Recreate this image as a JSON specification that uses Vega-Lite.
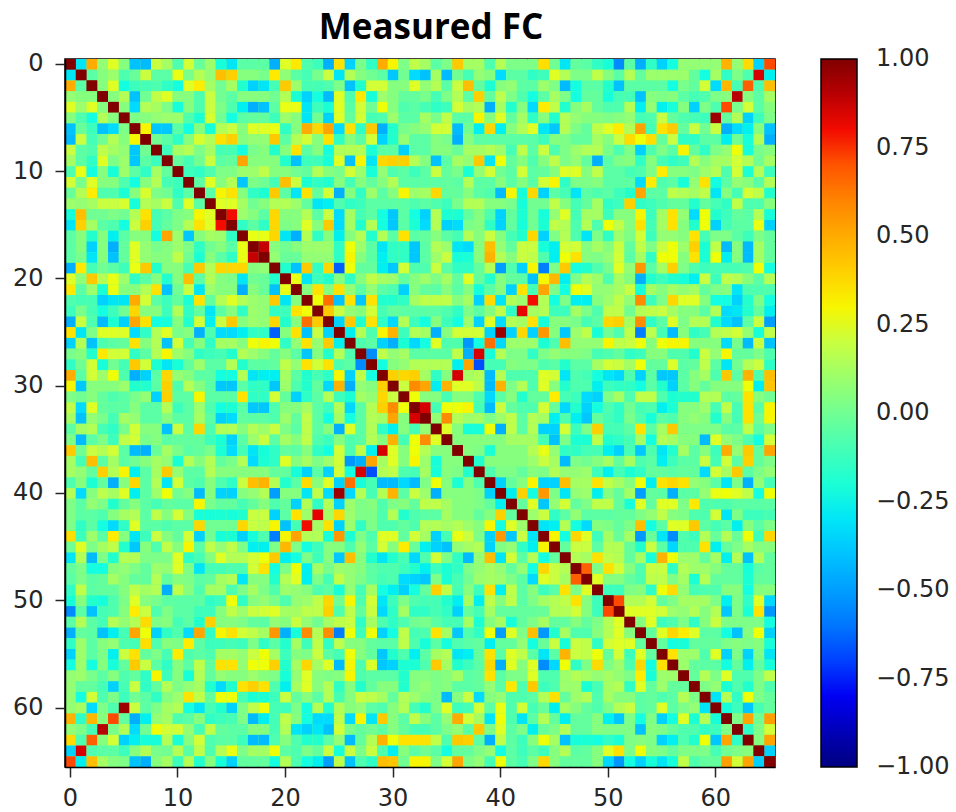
{"$schema":"https://vega.github.io/schema/vega-lite/v6.json","autosize":"none","width":710,"height":708,"padding":{"left":65,"top":59,"right":181,"bottom":45},"background":"white","title":{"text":"Measured FC","font":"Open Sans","fontWeight":"bold","fontSize":35,"color":"black","anchor":"middle","dx":11,"offset":6},"config":{"view":{"stroke":"black","strokeWidth":1.5,"fill":"#80ff80"},"font":"DejaVu Sans"},"data":{"values":[
{"r":1,"v":[100,-30,50,8,25,5,-40,-42,20,12,-8,22,-2,10,-22,-30,-5,-5,-5,-45,25,33,-8,-12,-45,35,-35,2,-15,50,30,3,18,12,-5,3,42,12,12,-8,15,3,3,3,36,0,-30,-3,-5,-15,-22,-55,-5,-45,-15,-35,-25,8,8,8,8,48,8,37,-35,72]},
{"r":2,"v":[0,100,-5,5,10,-8,-2,20,-5,-5,27,2,15,8,45,40,5,5,2,33,7,-5,-10,2,20,-30,15,5,0,-5,-38,0,-32,-40,12,-42,0,-10,8,5,-32,-5,-5,-15,-12,25,15,3,3,18,5,-5,15,-3,10,10,10,10,-3,-25,12,-15,3,-8,85,-28]},
{"r":3,"v":[0,0,100,5,25,-25,-12,-10,-8,-15,-25,25,32,12,0,12,-18,-35,-30,-10,42,10,-10,-10,-8,3,-40,-18,22,22,5,5,25,8,15,-5,20,45,-3,-20,5,8,-5,-5,10,3,-42,-25,-5,-5,-18,-40,-5,-5,-5,-5,-25,2,-3,22,-32,47,-10,68,-8,45]},
{"r":4,"v":[0,0,0,100,5,15,-40,0,18,25,5,5,-8,20,0,-5,5,5,5,0,15,-20,-35,-25,-42,25,-8,33,-22,10,5,-3,-3,2,-10,3,15,-5,40,-3,17,3,-8,-25,-5,12,3,-25,-3,-3,-22,-10,-10,-40,5,3,5,-5,-10,-8,3,5,90,5,-5,12]},
{"r":5,"v":[0,0,0,0,100,5,-32,15,12,3,-22,5,-8,20,3,-8,-28,-45,-40,-5,27,27,-30,-12,-20,25,-5,22,0,28,5,-8,-5,-10,-15,-12,22,12,15,-45,12,-18,5,-32,32,18,-18,5,12,-3,-8,-8,15,-28,8,-28,-22,5,-35,3,-8,72,2,22,-5,5]},
{"r":6,"v":[0,0,0,0,0,100,3,5,8,10,10,-8,-20,23,0,-25,-5,-3,-3,-12,10,5,-30,0,-35,25,-3,22,-10,-8,10,-5,-5,12,2,18,-5,-5,30,5,25,-3,12,-15,5,-18,15,8,5,5,3,5,8,-10,-8,20,-3,-8,-10,-12,95,-3,15,-35,-12,3]},
{"r":7,"v":[0,0,0,0,0,0,100,30,-38,-38,-5,-25,5,-22,15,20,5,25,25,27,-15,5,50,38,52,-32,35,-15,42,-45,-18,2,5,8,22,22,-42,0,-28,38,-28,5,15,25,-30,-38,15,3,-3,18,25,32,15,52,-10,35,42,-3,20,0,20,-45,-32,-28,5,-40]},
{"r":8,"v":[0,0,0,0,0,0,0,100,0,-5,-15,5,23,15,35,40,5,8,8,42,-5,15,22,5,35,-15,5,-5,22,-35,-18,8,-5,-5,5,2,-45,5,-5,-5,-5,-5,-5,-5,-12,5,3,-3,-3,12,5,20,37,28,36,-3,20,-15,-15,-5,-5,-28,0,-22,15,-45]},
{"r":9,"v":[0,0,0,0,0,0,0,0,100,-12,12,15,3,12,-10,-10,-25,2,5,-18,5,35,-5,5,-25,15,15,15,-20,-5,-5,-35,-5,-5,5,5,-2,12,12,15,10,-10,18,-5,20,-8,3,10,15,15,2,-8,3,-35,-8,3,-5,30,-3,-15,3,8,28,-22,2,5]},
{"r":10,"v":[0,0,0,0,0,0,0,0,0,100,-3,-10,0,20,-5,-3,52,5,5,5,-18,-40,-12,-12,-22,25,-40,30,-30,38,40,40,15,5,-40,-5,12,8,42,-30,28,-3,5,-8,5,18,3,8,-3,-45,-5,3,5,-15,5,-10,-15,-12,15,5,12,12,22,15,0,12]},
{"r":11,"v":[0,0,0,0,0,0,0,0,0,0,100,-12,-15,-8,3,3,10,10,18,5,5,0,-3,15,5,2,22,10,-22,8,-8,-5,-12,-5,20,-3,2,-20,8,22,0,-5,22,-5,-3,5,25,25,5,18,-5,-5,-10,-8,3,32,5,5,3,10,15,-8,22,-20,15,-12]},
{"r":12,"v":[0,0,0,0,0,0,0,0,0,0,0,100,-5,25,5,15,-38,3,0,-10,45,20,-20,-15,-18,5,-10,5,-3,5,15,-5,-5,-5,-5,-3,-5,15,-5,-5,5,-5,5,-5,22,30,-15,3,3,5,-5,-5,-5,-32,32,-8,-5,-22,8,35,-25,-5,8,5,-5,15]},
{"r":13,"v":[0,0,0,0,0,0,0,0,0,0,0,0,100,-5,30,35,5,-15,-20,42,-5,-30,35,-3,22,-45,5,-15,10,-5,5,30,10,12,38,-3,-3,5,-5,-8,-42,30,-22,38,-35,-5,-10,-30,-5,-8,-5,-12,-18,52,-5,-5,18,15,12,18,-30,5,-10,22,18,-18]},
{"r":14,"v":[0,0,0,0,0,0,0,0,0,0,0,0,0,100,25,25,12,0,5,15,15,10,-3,-30,-28,-8,-15,-12,-5,-5,-5,-5,-8,-5,-8,-12,2,15,15,5,5,2,-22,0,0,18,5,-10,-3,12,-15,-12,40,-15,-12,-8,-3,-3,-18,-3,-10,-15,18,-8,-8,5]},
{"r":15,"v":[0,0,0,0,0,0,0,0,0,0,0,0,0,0,100,80,10,5,-5,38,5,5,15,-5,20,-32,12,-10,-5,-25,-38,-5,-25,-35,15,-20,-20,-3,5,-8,-35,-3,-20,0,-22,8,25,-10,12,12,-12,5,5,30,-12,12,35,8,-32,28,-18,-12,-3,-5,15,-22]},
{"r":16,"v":[0,0,0,0,0,0,0,0,0,0,0,0,0,0,0,100,-15,-5,-15,38,3,5,25,5,42,-32,12,-18,15,-25,-38,-5,-20,-32,15,-35,-32,2,5,-15,-35,-3,-22,0,-20,18,15,-8,15,-8,28,18,5,35,-10,12,35,5,-18,28,-35,-10,-5,-5,27,-35]},
{"r":17,"v":[0,0,0,0,0,0,0,0,0,0,0,0,0,0,0,0,100,27,27,38,-30,-45,15,-15,5,-28,5,15,-18,15,-5,35,-5,-3,5,-5,-10,15,5,20,5,-10,-18,38,-35,3,15,-8,-30,3,-15,10,3,22,-12,8,8,5,35,-10,3,3,-5,-12,3,-3]},
{"r":18,"v":[0,0,0,0,0,0,0,0,0,0,0,0,0,0,0,0,0,100,88,5,0,5,10,10,10,-15,28,10,-5,-30,-15,-15,-38,-5,15,10,-30,-32,5,45,8,-3,20,20,-22,-28,22,22,5,12,5,20,-3,18,3,20,28,10,40,-20,18,-42,5,-42,12,-3]},
{"r":19,"v":[0,0,0,0,0,0,0,0,0,0,0,0,0,0,0,0,0,0,100,8,-2,-2,8,8,8,-15,30,5,-5,-28,-15,-15,-38,-5,10,20,-22,-20,5,48,15,5,20,18,-8,-28,28,35,5,3,8,22,-5,12,-15,28,28,5,35,-20,28,-28,5,-42,12,-3]},
{"r":20,"v":[0,0,0,0,0,0,0,0,0,0,0,0,0,0,0,0,0,0,0,100,-18,-40,42,-15,38,-65,28,-3,-3,-28,-38,22,-8,-8,20,-5,-15,-15,-3,15,-50,-8,-35,30,-58,3,42,-25,-18,-8,2,25,8,55,-5,12,40,3,-8,-12,-10,-10,-10,-8,28,-25]},
{"r":21,"v":[0,0,0,0,0,0,0,0,0,0,0,0,0,0,0,0,0,0,0,0,100,27,-30,-12,-18,5,-15,5,18,12,10,-3,5,10,3,12,-3,25,-3,-18,5,-3,-5,-40,30,47,-28,3,15,10,-8,12,5,-45,-18,-12,-18,-22,-28,20,-12,18,15,5,-5,15]},
{"r":22,"v":[0,0,0,0,0,0,0,0,0,0,0,0,0,0,0,0,0,0,0,0,0,100,5,35,5,35,8,-5,8,-5,-8,-35,5,-3,-5,5,-5,5,-22,-5,5,-35,35,-10,52,3,-25,28,25,8,8,12,20,-22,12,5,12,8,12,-3,3,5,-30,-8,-8,-8]},
{"r":23,"v":[0,0,0,0,0,0,0,0,0,0,0,0,0,0,0,0,0,0,0,0,0,0,100,28,65,-40,35,-38,35,-18,-18,-15,12,18,18,18,5,12,-35,37,-30,15,10,80,15,-25,3,-28,-28,5,10,18,8,58,-12,3,38,25,25,5,-25,-25,-35,-18,3,-25]},
{"r":24,"v":[0,0,0,0,0,0,0,0,0,0,0,0,0,0,0,0,0,0,0,0,0,0,0,100,42,20,8,5,22,-10,-3,-5,-5,-5,-5,-8,-15,3,-5,5,18,-15,82,12,15,-12,-12,12,3,-8,18,18,0,15,18,20,12,5,5,-5,15,-32,-30,-18,-3,-28]},
{"r":25,"v":[0,0,0,0,0,0,0,0,0,0,0,0,0,0,0,0,0,0,0,0,0,0,0,0,100,-35,42,-18,35,-15,-33,15,-12,-25,5,-12,-25,10,-35,25,-32,15,12,35,-22,5,5,2,-10,-5,38,40,12,58,-15,-5,25,3,15,15,-18,-32,-40,-5,20,-50]},
{"r":26,"v":[0,0,0,0,0,0,0,0,0,0,0,0,0,0,0,0,0,0,0,0,0,0,0,0,0,100,-28,15,-8,30,48,-12,15,12,-45,5,22,22,22,-35,95,-35,38,-35,55,5,-38,10,18,-22,0,-8,18,-58,17,-10,-42,5,-15,-10,15,18,22,8,-22,18]},
{"r":27,"v":[0,0,0,0,0,0,0,0,0,0,0,0,0,0,0,0,0,0,0,0,0,0,0,0,0,0,100,-8,-5,-35,-45,-20,-33,-25,25,-8,-8,-52,-25,65,-33,10,10,10,-20,-8,45,8,8,8,30,18,20,28,5,28,30,30,5,5,5,-32,2,-42,20,-40]},
{"r":28,"v":[0,0,0,0,0,0,0,0,0,0,0,0,0,0,0,0,0,0,0,0,0,0,0,0,0,0,0,100,-55,18,8,12,-5,-5,-5,-5,18,-45,85,-22,15,3,3,-15,3,8,5,5,3,-10,-8,-3,-15,-12,5,5,-8,-8,-18,20,8,30,-3,-3,3,-8]},
{"r":29,"v":[0,0,0,0,0,0,0,0,0,0,0,0,0,0,0,0,0,0,0,0,0,0,0,0,0,0,0,0,100,-25,5,8,15,15,15,15,-28,52,-68,-10,-10,5,3,3,-8,-5,-18,-5,-5,12,22,20,12,28,-3,-3,24,-5,-3,18,-5,-30,0,15,20,-15]},
{"r":30,"v":[0,0,0,0,0,0,0,0,0,0,0,0,0,0,0,0,0,0,0,0,0,0,0,0,0,0,0,0,0,100,40,38,40,12,-15,5,85,12,15,-42,15,-8,-8,-8,25,22,-30,-8,-10,-25,-30,-33,-8,-35,-5,-38,-38,-5,5,12,-8,42,-5,48,-8,45]},
{"r":31,"v":[0,0,0,0,0,0,0,0,0,0,0,0,0,0,0,0,0,0,0,0,0,0,0,0,0,0,0,0,0,0,100,20,58,52,-28,48,25,25,18,-42,48,3,15,-8,25,5,-18,-8,-8,-28,-12,-15,-15,-25,-5,-18,-35,-5,5,-3,5,5,5,28,-28,43]},
{"r":32,"v":[0,0,0,0,0,0,0,0,0,0,0,0,0,0,0,0,0,0,0,0,0,0,0,0,0,0,0,0,0,0,0,100,28,5,5,-10,5,5,-8,-33,-5,5,-18,-3,-3,32,-10,-12,-32,-35,3,12,-8,18,18,-8,-20,-18,-18,15,15,-5,-3,35,5,0]},
{"r":33,"v":[0,0,0,0,0,0,0,0,0,0,0,0,0,0,0,0,0,0,0,0,0,0,0,0,0,0,0,0,0,0,0,0,100,85,-10,28,28,30,-10,-42,20,-3,-8,-8,22,-2,-33,-18,-35,-25,-8,-15,0,-10,-8,-28,-20,5,5,10,-10,18,-10,35,-5,30]},
{"r":34,"v":[0,0,0,0,0,0,0,0,0,0,0,0,0,0,0,0,0,0,0,0,0,0,0,0,0,0,0,0,0,0,0,0,0,100,8,58,15,10,12,3,10,18,-5,15,12,-28,-8,-28,-38,-3,-10,-15,2,-8,-22,-5,-8,5,8,5,-18,5,-10,35,0,30]},
{"r":35,"v":[0,0,0,0,0,0,0,0,0,0,0,0,0,0,0,0,0,0,0,0,0,0,0,0,0,0,0,0,0,0,0,0,0,0,100,25,5,-22,-22,28,-45,18,-5,15,-35,-35,22,-12,3,40,-10,-10,-5,35,-5,12,42,3,3,3,3,-5,-5,18,-5,3]},
{"r":36,"v":[0,0,0,0,0,0,0,0,0,0,0,0,0,0,0,0,0,0,0,0,0,0,0,0,0,0,0,0,0,0,0,0,0,0,0,100,5,5,5,5,5,12,12,12,-10,-40,3,-20,-20,18,-18,-15,-10,12,-25,15,12,5,5,-42,25,8,3,-8,-25,22]},
{"r":37,"v":[0,0,0,0,0,0,0,0,0,0,0,0,0,0,0,0,0,0,0,0,0,0,0,0,0,0,0,0,0,0,0,0,0,0,0,0,100,5,3,-20,5,5,5,15,27,8,-15,-15,-10,-10,-28,-35,-10,-38,-8,-30,-18,12,-5,5,-12,50,8,42,-3,52]},
{"r":38,"v":[0,0,0,0,0,0,0,0,0,0,0,0,0,0,0,0,0,0,0,0,0,0,0,0,0,0,0,0,0,0,0,0,0,0,0,0,0,100,-18,5,5,5,5,10,20,12,-42,3,0,5,12,-3,12,-8,-5,-28,-12,-5,-5,20,-10,22,-5,40,-3,3]},
{"r":39,"v":[0,0,0,0,0,0,0,0,0,0,0,0,0,0,0,0,0,0,0,0,0,0,0,0,0,0,0,0,0,0,0,0,0,0,0,0,0,0,100,-8,3,3,-3,5,3,15,8,8,10,-12,-28,-10,-20,-15,-3,-3,-5,-3,-3,-32,22,12,42,-5,3,8]},
{"r":40,"v":[0,0,0,0,0,0,0,0,0,0,0,0,0,0,0,0,0,0,0,0,0,0,0,0,0,0,0,0,0,0,0,0,0,0,0,0,0,0,0,100,-35,-3,5,30,-35,-35,45,12,12,35,18,12,5,28,-28,35,38,35,8,5,-5,-30,3,-45,8,-10]},
{"r":41,"v":[0,0,0,0,0,0,0,0,0,0,0,0,0,0,0,0,0,0,0,0,0,0,0,0,0,0,0,0,0,0,0,0,0,0,0,0,0,0,0,0,100,-28,40,-25,55,3,-30,8,10,-28,5,-3,12,-50,-3,-5,-45,-5,-5,8,27,28,25,18,-25,28]},
{"r":42,"v":[0,0,0,0,0,0,0,0,0,0,0,0,0,0,0,0,0,0,0,0,0,0,0,0,0,0,0,0,0,0,0,0,0,0,0,0,0,0,0,0,0,100,-3,25,-38,8,22,-3,3,18,18,-3,-22,25,-3,25,25,3,33,-8,-8,-8,-5,-5,-5,-5]},
{"r":43,"v":[0,0,0,0,0,0,0,0,0,0,0,0,0,0,0,0,0,0,0,0,0,0,0,0,0,0,0,0,0,0,0,0,0,0,0,0,0,0,0,0,0,0,100,10,20,-15,-5,8,-5,-5,-5,-3,-3,3,8,18,5,3,-8,-8,22,-30,3,-12,-12,-10]},
{"r":44,"v":[0,0,0,0,0,0,0,0,0,0,0,0,0,0,0,0,0,0,0,0,0,0,0,0,0,0,0,0,0,0,0,0,0,0,0,0,0,0,0,0,0,0,0,100,-30,-28,15,-25,-32,5,3,-3,3,45,-25,-5,25,25,42,-5,-10,-5,-28,5,-5,3]},
{"r":45,"v":[0,0,0,0,0,0,0,0,0,0,0,0,0,0,0,0,0,0,0,0,0,0,0,0,0,0,0,0,0,0,0,0,0,0,0,0,0,0,0,0,0,0,0,0,100,30,-25,38,25,-12,12,-2,12,-52,-2,-30,-55,-8,-12,15,-2,15,-2,28,-12,38]},
{"r":46,"v":[0,0,0,0,0,0,0,0,0,0,0,0,0,0,0,0,0,0,0,0,0,0,0,0,0,0,0,0,0,0,0,0,0,0,0,0,0,0,0,0,0,0,0,0,0,100,-3,20,20,-5,15,15,-3,-18,20,-5,-33,-8,-8,35,-28,-3,3,12,5,5]},
{"r":47,"v":[0,0,0,0,0,0,0,0,0,0,0,0,0,0,0,0,0,0,0,0,0,0,0,0,0,0,0,0,0,0,0,0,0,0,0,0,0,0,0,0,0,0,0,0,0,0,100,15,12,35,18,15,-3,12,-22,48,28,10,10,-3,12,-28,15,-40,15,-3]},
{"r":48,"v":[0,0,0,0,0,0,0,0,0,0,0,0,0,0,0,0,0,0,0,0,0,0,0,0,0,0,0,0,0,0,0,0,0,0,0,0,0,0,0,0,0,0,0,0,0,0,0,100,68,3,35,22,5,-8,20,20,-15,15,10,10,5,-3,-3,-22,-5,-3]},
{"r":49,"v":[0,0,0,0,0,0,0,0,0,0,0,0,0,0,0,0,0,0,0,0,0,0,0,0,0,0,0,0,0,0,0,0,0,0,0,0,0,0,0,0,0,0,0,0,0,0,0,0,100,25,5,5,-3,-8,18,18,3,12,-20,15,-3,-3,-3,-20,-3,-3]},
{"r":50,"v":[0,0,0,0,0,0,0,0,0,0,0,0,0,0,0,0,0,0,0,0,0,0,0,0,0,0,0,0,0,0,0,0,0,0,0,0,0,0,0,0,0,0,0,0,0,0,0,0,0,100,-12,-12,3,5,-15,28,37,8,-10,-8,-8,5,5,-25,5,5]},
{"r":51,"v":[0,0,0,0,0,0,0,0,0,0,0,0,0,0,0,0,0,0,0,0,0,0,0,0,0,0,0,0,0,0,0,0,0,0,0,0,0,0,0,0,0,0,0,0,0,0,0,0,0,0,100,72,15,15,22,-3,3,12,12,12,3,-28,3,-15,25,-33]},
{"r":52,"v":[0,0,0,0,0,0,0,0,0,0,0,0,0,0,0,0,0,0,0,0,0,0,0,0,0,0,0,0,0,0,0,0,0,0,0,0,0,0,0,0,0,0,0,0,0,0,0,0,0,0,0,100,25,25,25,22,10,8,15,5,15,-38,3,-20,35,-52]},
{"r":53,"v":[0,0,0,0,0,0,0,0,0,0,0,0,0,0,0,0,0,0,0,0,0,0,0,0,0,0,0,0,0,0,0,0,0,0,0,0,0,0,0,0,0,0,0,0,0,0,0,0,0,0,0,0,100,5,25,-12,-8,3,-15,5,20,3,3,3,3,-25]},
{"r":54,"v":[0,0,0,0,0,0,0,0,0,0,0,0,0,0,0,0,0,0,0,0,0,0,0,0,0,0,0,0,0,0,0,0,0,0,0,0,0,0,0,0,0,0,0,0,0,0,0,0,0,0,0,0,0,100,-3,25,38,32,25,-5,-5,-25,-40,5,28,-35]},
{"r":55,"v":[0,0,0,0,0,0,0,0,0,0,0,0,0,0,0,0,0,0,0,0,0,0,0,0,0,0,0,0,0,0,0,0,0,0,0,0,0,0,0,0,0,0,0,0,0,0,0,0,0,0,0,0,0,0,100,-3,-25,-22,-3,-3,-3,3,5,3,5,-22]},
{"r":56,"v":[0,0,0,0,0,0,0,0,0,0,0,0,0,0,0,0,0,0,0,0,0,0,0,0,0,0,0,0,0,0,0,0,0,0,0,0,0,0,0,0,0,0,0,0,0,0,0,0,0,0,0,0,0,0,0,100,35,10,10,-8,25,-35,3,-35,3,-30]},
{"r":57,"v":[0,0,0,0,0,0,0,0,0,0,0,0,0,0,0,0,0,0,0,0,0,0,0,0,0,0,0,0,0,0,0,0,0,0,0,0,0,0,0,0,0,0,0,0,0,0,0,0,0,0,0,0,0,0,0,0,100,10,-3,-5,-5,-25,-3,-28,-3,-22]},
{"r":58,"v":[0,0,0,0,0,0,0,0,0,0,0,0,0,0,0,0,0,0,0,0,0,0,0,0,0,0,0,0,0,0,0,0,0,0,0,0,0,0,0,0,0,0,0,0,0,0,0,0,0,0,0,0,0,0,0,0,0,100,-3,15,3,25,-8,-8,3,18]},
{"r":59,"v":[0,0,0,0,0,0,0,0,0,0,0,0,0,0,0,0,0,0,0,0,0,0,0,0,0,0,0,0,0,0,0,0,0,0,0,0,0,0,0,0,0,0,0,0,0,0,0,0,0,0,0,0,0,0,0,0,0,0,100,3,8,-20,-8,-18,3,-8]},
{"r":60,"v":[0,0,0,0,0,0,0,0,0,0,0,0,0,0,0,0,0,0,0,0,0,0,0,0,0,0,0,0,0,0,0,0,0,0,0,0,0,0,0,0,0,0,0,0,0,0,0,0,0,0,0,0,0,0,0,0,0,0,0,100,-30,15,-15,28,3,-3]},
{"r":61,"v":[0,0,0,0,0,0,0,0,0,0,0,0,0,0,0,0,0,0,0,0,0,0,0,0,0,0,0,0,0,0,0,0,0,0,0,0,0,0,0,0,0,0,0,0,0,0,0,0,0,0,0,0,0,0,0,0,0,0,0,0,100,-22,-12,-38,-10,-3]},
{"r":62,"v":[0,0,0,0,0,0,0,0,0,0,0,0,0,0,0,0,0,0,0,0,0,0,0,0,0,0,0,0,0,0,0,0,0,0,0,0,0,0,0,0,0,0,0,0,0,0,0,0,0,0,0,0,0,0,0,0,0,0,0,0,0,100,3,52,0,53]},
{"r":63,"v":[0,0,0,0,0,0,0,0,0,0,0,0,0,0,0,0,0,0,0,0,0,0,0,0,0,0,0,0,0,0,0,0,0,0,0,0,0,0,0,0,0,0,0,0,0,0,0,0,0,0,0,0,0,0,0,0,0,0,0,0,0,0,100,-15,3,22]},
{"r":64,"v":[0,0,0,0,0,0,0,0,0,0,0,0,0,0,0,0,0,0,0,0,0,0,0,0,0,0,0,0,0,0,0,0,0,0,0,0,0,0,0,0,0,0,0,0,0,0,0,0,0,0,0,0,0,0,0,0,0,0,0,0,0,0,0,100,5,52]},
{"r":65,"v":[0,0,0,0,0,0,0,0,0,0,0,0,0,0,0,0,0,0,0,0,0,0,0,0,0,0,0,0,0,0,0,0,0,0,0,0,0,0,0,0,0,0,0,0,0,0,0,0,0,0,0,0,0,0,0,0,0,0,0,0,0,0,0,0,100,-35]},
{"r":66,"v":[0,0,0,0,0,0,0,0,0,0,0,0,0,0,0,0,0,0,0,0,0,0,0,0,0,0,0,0,0,0,0,0,0,0,0,0,0,0,0,0,0,0,0,0,0,0,0,0,0,0,0,0,0,0,0,0,0,0,0,0,0,0,0,0,0,100]}
]},"transform":[{"flatten":["v"]},{"window":[{"op":"row_number","as":"c"}],"groupby":["r"]},{"filter":"datum.c>=datum.r"}],
"layer":[
{"mark":{"type":"rect"},"encoding":{"x":{"field":"c","type":"ordinal","scale":{"paddingInner":0,"paddingOuter":0},"title":null,"axis":{"values":[1,11,21,31,41,51,61],"labelExpr":"datum.value-1","labelAngle":0,"labelFontSize":24,"labelColor":"#262626","labelFont":"DejaVu Sans","tickColor":"#262626","tickSize":10,"tickWidth":1.5,"domain":true,"domainColor":"black","domainWidth":1.5,"zindex":1,"grid":false,"labelPadding":9}},"y":{"field":"r","type":"ordinal","scale":{"paddingInner":0,"paddingOuter":0},"title":null,"axis":{"values":[1,11,21,31,41,51,61],"labelExpr":"datum.value-1","labelFontSize":24,"labelColor":"#262626","labelFont":"DejaVu Sans","tickColor":"#262626","tickSize":10,"tickWidth":1.5,"domain":true,"domainColor":"black","domainWidth":1.5,"zindex":1,"grid":false,"labelPadding":12}},"fill":{"field":"v","type":"quantitative","scale":{"domain":[-100,-78,-75,-32,-30,-25,28,30,32,78,82,100],"range":["#000080","#0000ff","#0000ff","#00dbff","#00e6f7","#14ffe2","#eeff08","#f7f600","#ffec00","#ff1400","#e80000","#800000"]},"title":null,"legend":{"type":"gradient","direction":"vertical","orient":"none","legendX":756,"legendY":0,"gradientLength":708,"gradientThickness":36,"gradientStrokeColor":"black","gradientStrokeWidth":1.5,"values":[-100,-75,-50,-25,0,25,50,75,100],"labelExpr":"format(datum.value/100,'.2f')","labelFontSize":24,"labelColor":"#262626","labelFont":"DejaVu Sans","labelOffset":19,"labelOverlap":false,"encode":{"labels":{"update":{"baseline":{"value":"middle"}}}}}}}},
{"mark":{"type":"rect"},"encoding":{"x":{"field":"r","type":"ordinal"},"y":{"field":"c","type":"ordinal"},"fill":{"field":"v","type":"quantitative","legend":null}}}
]}
